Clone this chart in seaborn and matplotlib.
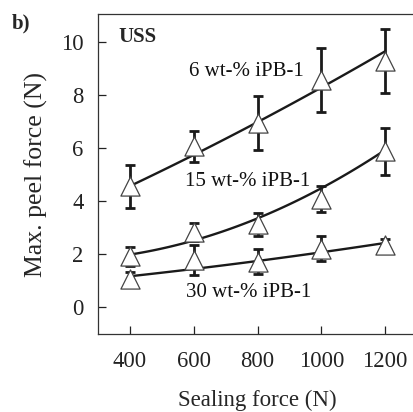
import numpy as np
import pandas as pd
import matplotlib
matplotlib.use("Agg")
import matplotlib.pyplot as plt
import seaborn as sns

# Sealing force levels (N)
sealing_force = [400, 600, 800, 1000, 1200]

# Mean max. peel force (N) and error half-widths per iPB-1 content
peel_6 = [4.58, 6.08, 6.95, 8.58, 9.30]
err_6 = [0.81, 0.59, 1.02, 1.22, 1.20]
peel_15 = [1.93, 2.85, 3.14, 4.11, 5.89]
err_15 = [0.35, 0.35, 0.43, 0.49, 0.88]
peel_30 = [1.06, 1.80, 1.72, 2.22, 2.36]
err_30 = [0.26, 0.57, 0.47, 0.47, 0.24]

# Trend curve values at each sealing force
trend_6 = [4.55, 5.84, 6.90, 8.33, 9.66]
trend_15 = [1.93, 2.66, 3.35, 4.38, 6.00]
trend_30 = [1.18, 1.44, 1.78, 2.06, 2.44]

series_labels = ["6 wt-% iPB-1", "15 wt-% iPB-1", "30 wt-% iPB-1"]
x_ticks = [400, 600, 800, 1000, 1200]
y_ticks = [0, 2, 4, 6, 8, 10]

sns.set_style("ticks")
plt.rcParams["font.family"] = ["Liberation Serif", "DejaVu Serif"]

fig = plt.figure(figsize=(4.13, 4.12), dpi=100)
ax = fig.add_axes([98 / 413, 78 / 412, 319 / 413, 319.5 / 412])

rows = []
for lab, vals, errs, trend in zip(series_labels,
                                  [peel_6, peel_15, peel_30],
                                  [err_6, err_15, err_30],
                                  [trend_6, trend_15, trend_30]):
    for f, v, e, t in zip(sealing_force, vals, errs, trend):
        rows.append({"series": lab, "force": f, "peel": v, "err": e, "trend": t})
df = pd.DataFrame(rows)

line_color = "#1a1a1a"
for lab in series_labels:
    sub = df[df["series"] == lab]
    sns.regplot(data=sub, x="force", y="trend", order=2, ci=None,
                scatter=False, truncate=True, ax=ax,
                line_kws={"color": line_color, "lw": 1.7, "zorder": 2})
    ax.errorbar(sub["force"], sub["peel"], yerr=sub["err"], fmt="none",
                ecolor=line_color, elinewidth=2.0, capsize=3.5,
                capthick=2.0, zorder=3)

sns.scatterplot(data=df, x="force", y="peel", marker="^", s=190,
                facecolor="white", edgecolor="#444444", linewidth=0.9,
                ax=ax, zorder=4, legend=False)

ax.set_xlim(300, 1300)
ax.set_ylim(-1, 11.05)
ax.set_xticks(x_ticks)
ax.set_yticks(y_ticks)
ax.tick_params(direction="in", length=5.5, width=0.9, colors="#222222",
               labelsize=16.3)
ax.tick_params(axis="x", pad=12)
ax.tick_params(axis="y", pad=10.5)
for s in ["left", "bottom", "top", "right"]:
    ax.spines[s].set_linewidth(0.9)
    ax.spines[s].set_color("#333333")

ax.set_xlabel("Sealing force (N)", fontsize=16.5, labelpad=13)
ax.set_ylabel("Max. peel force (N)", fontsize=18.5, labelpad=9)

text_kw = dict(fontsize=15, ha="center", va="center", color="#111111")
ax.text(764, 8.9, series_labels[0], **text_kw)
ax.text(769, 4.75, series_labels[1], **text_kw)
ax.text(773, 0.57, series_labels[2], **text_kw)

ax.text(0.065, 0.93, "USS", transform=ax.transAxes, fontsize=15,
        fontweight="bold", ha="left", va="center")
fig.text(12 / 413, 1 - 23 / 412, "b)", fontsize=15, fontweight="bold",
         ha="left", va="center")

fig.savefig("out.png", dpi=100)
